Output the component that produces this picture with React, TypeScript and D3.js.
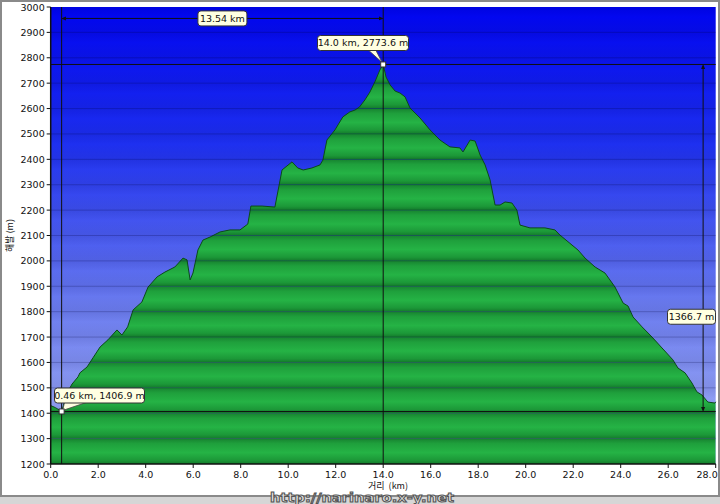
import React, { useEffect, useRef } from 'react';
import * as d3 from 'd3';

// elevation profile (distance km, elevation m)
const distKm = [
  0.0, 0.2, 0.46, 0.69, 0.9, 1.15, 1.23, 1.53, 1.78, 2.08, 2.41, 2.79, 3.0, 3.24,
  3.47, 3.84, 4.1, 4.48, 4.81, 5.23, 5.57, 5.74, 5.87, 5.99, 6.2, 6.41, 6.71,
  7.13, 7.55, 7.97, 8.3, 8.43, 8.9, 9.44, 9.74, 10.16, 10.4, 10.63, 11.0, 11.34,
  11.46, 11.63, 11.97, 12.3, 12.6, 12.81, 13.0, 13.23, 13.44, 13.65, 13.86, 14.0,
  14.12, 14.29, 14.5, 14.71, 14.92, 15.13, 15.55, 15.97, 16.39, 16.81, 17.23,
  17.36, 17.66, 17.87, 18.08, 18.29, 18.5, 18.71, 18.92, 19.13, 19.42, 19.63,
  19.76, 20.18, 20.81, 21.23, 21.44, 22.2, 22.5, 22.92, 23.34, 23.76, 24.1,
  24.31, 24.52, 24.9, 25.32, 25.74, 26.2, 26.41, 26.71, 27.0, 27.21, 27.42,
  27.67, 27.97, 28.0,
];
const elevM = [
  1430, 1422, 1406.9, 1480, 1515, 1543, 1559, 1582, 1618, 1661, 1689, 1728, 1708,
  1740, 1807, 1838, 1897, 1937, 1956, 1976, 2011, 2004, 1925, 1952, 2043, 2082,
  2094, 2114, 2122, 2122, 2145, 2216, 2216, 2212, 2358, 2390, 2366, 2358, 2366,
  2378, 2397, 2476, 2516, 2567, 2587, 2594, 2606, 2634, 2665, 2705, 2752, 2773.6,
  2724, 2693, 2669, 2661, 2646, 2602, 2563, 2516, 2476, 2449, 2445, 2429, 2476,
  2472, 2417, 2378, 2319, 2220, 2220, 2232, 2228, 2200, 2141, 2130, 2130, 2122,
  2102, 2043, 2011, 1976, 1952, 1897, 1834, 1822, 1779, 1740, 1700, 1657, 1610,
  1578, 1559, 1519, 1484, 1472, 1444, 1440, 1445,
];

const xTicks = [0, 2, 4, 6, 8, 10, 12, 14, 16, 18, 20, 22, 24, 26, 28];
const yTicks = [1200, 1300, 1400, 1500, 1600, 1700, 1800, 1900, 2000, 2100, 2200,
  2300, 2400, 2500, 2600, 2700, 2800, 2900, 3000];

const peak = { km: 14.0, m: 2773.6, label: '14.0 km, 2773.6 m' };
const low = { km: 0.46, m: 1406.9, label: '0.46 km, 1406.9 m' };
const spanLabel = '13.54 km';
const riseLabel = '1366.7 m';
const spanAtM = 2955;
const riseAtKm = 27.47;

const W = 720;
const H = 504;

const App: React.FC = () => {
  const svgRef = useRef<SVGSVGElement>(null);

  useEffect(() => {
    const svg = d3.select(svgRef.current);
    svg.selectAll('*').remove();

    const x = d3.scaleLinear().domain([0, 28]).range([50.7, 715.7]);
    const y = d3.scaleLinear().domain([1200, 3000]).range([464, 7]);
    const [x0, x1] = x.range();
    const [yb, yt] = y.range();
    const font = 'Tahoma, "DejaVu Sans", sans-serif';

    const defs = svg.append('defs');
    // sky gradient
    const sky = defs.append('linearGradient').attr('id', 'sky')
      .attr('x1', 0).attr('y1', 0).attr('x2', 0).attr('y2', 1);
    sky.append('stop').attr('offset', '0%').attr('stop-color', '#0004f0');
    sky.append('stop').attr('offset', '30%').attr('stop-color', '#1e30f0');
    sky.append('stop').attr('offset', '65%').attr('stop-color', '#6a7bef');
    sky.append('stop').attr('offset', '100%').attr('stop-color', '#a6b2f5');
    // green band gradient
    const band = defs.append('linearGradient').attr('id', 'band')
      .attr('x1', 0).attr('y1', 0).attr('x2', 0).attr('y2', 1);
    band.append('stop').attr('offset', '0%').attr('stop-color', '#178330');
    band.append('stop').attr('offset', '20%').attr('stop-color', '#1fa03c');
    band.append('stop').attr('offset', '55%').attr('stop-color', '#25b345');
    band.append('stop').attr('offset', '85%').attr('stop-color', '#1c9838');
    band.append('stop').attr('offset', '100%').attr('stop-color', '#137a2b');
    // sky band shading
    const skyBand = defs.append('linearGradient').attr('id', 'skyBand')
      .attr('x1', 0).attr('y1', 0).attr('x2', 0).attr('y2', 1);
    skyBand.append('stop').attr('offset', '0%').attr('stop-color', '#000030').attr('stop-opacity', 0.08);
    skyBand.append('stop').attr('offset', '40%').attr('stop-color', '#000030').attr('stop-opacity', 0);
    skyBand.append('stop').attr('offset', '100%').attr('stop-color', '#000030').attr('stop-opacity', 0.07);

    const pts: [number, number][] = distKm.map((d, i) => [d, elevM[i]]);
    const area = d3.area<[number, number]>()
      .x((d) => x(d[0])).y0(yb).y1((d) => y(d[1]));
    const line = d3.line<[number, number]>()
      .x((d) => x(d[0])).y((d) => y(d[1]));

    defs.append('clipPath').attr('id', 'ground')
      .append('path').attr('d', area(pts));

    // arrowheads
    const mk = (id: string, path: string) =>
      defs.append('marker').attr('id', id)
        .attr('viewBox', '0 0 10 10').attr('refX', 5).attr('refY', 5)
        .attr('markerWidth', 5).attr('markerHeight', 5).attr('orient', 'auto')
        .append('path').attr('d', path).attr('fill', '#111');
    mk('arrowEnd', 'M0,1 L10,5 L0,9 Z');
    mk('arrowStart', 'M10,1 L0,5 L10,9 Z');

    // frame
    svg.append('rect').attr('x', 0).attr('y', 0).attr('width', W).attr('height', H)
      .attr('fill', '#ffffff');
    svg.append('rect').attr('x', 0).attr('y', 496).attr('width', W).attr('height', 8)
      .attr('fill', '#d6d6d6');
    svg.append('line').attr('x1', 0).attr('x2', W).attr('y1', 496).attr('y2', 496)
      .attr('stroke', '#a0a0a0');
    svg.append('rect').attr('x', 1).attr('y', 1).attr('width', W - 2).attr('height', 495)
      .attr('fill', 'none').attr('stroke', '#8a8a8a').attr('stroke-width', 2);

    // plot background
    svg.append('rect').attr('x', x0).attr('y', yt).attr('width', x1 - x0)
      .attr('height', yb - yt).attr('fill', 'url(#sky)');
    const bands = yTicks.slice(0, -1);
    svg.append('g').selectAll('rect').data(bands).enter().append('rect')
      .attr('x', x0).attr('width', x1 - x0)
      .attr('y', (d) => y(d + 100)).attr('height', (d) => y(d) - y(d + 100))
      .attr('fill', 'url(#skyBand)');

    // ground bands
    svg.append('g').attr('clip-path', 'url(#ground)')
      .selectAll('rect').data(bands).enter().append('rect')
      .attr('x', x0).attr('width', x1 - x0)
      .attr('y', (d) => y(d + 100)).attr('height', (d) => y(d) - y(d + 100))
      .attr('fill', 'url(#band)');
    svg.append('path').attr('d', line(pts)).attr('fill', 'none')
      .attr('stroke', '#0b4a19').attr('stroke-width', 1);

    // grid lines
    svg.append('g').selectAll('line').data(yTicks.slice(1, -1)).enter().append('line')
      .attr('x1', x0).attr('x2', x1).attr('y1', (d) => y(d)).attr('y2', (d) => y(d))
      .attr('stroke', '#000040').attr('stroke-opacity', 0.22);

    // reference lines
    const refs = svg.append('g').attr('stroke', '#111').attr('stroke-width', 1);
    refs.append('line').attr('x1', x0).attr('x2', x1)
      .attr('y1', y(peak.m)).attr('y2', y(peak.m));
    refs.append('line').attr('x1', x0).attr('x2', x1)
      .attr('y1', y(low.m)).attr('y2', y(low.m));
    refs.append('line').attr('x1', x(low.km)).attr('x2', x(low.km))
      .attr('y1', yt).attr('y2', yb);
    refs.append('line').attr('x1', x(peak.km)).attr('x2', x(peak.km))
      .attr('y1', yt).attr('y2', yb);
    // dimension arrows
    refs.append('line').attr('x1', x(low.km) + 2).attr('x2', x(peak.km) - 2)
      .attr('y1', y(spanAtM)).attr('y2', y(spanAtM))
      .attr('marker-start', 'url(#arrowStart)').attr('marker-end', 'url(#arrowEnd)');
    refs.append('line').attr('x1', x(riseAtKm)).attr('x2', x(riseAtKm))
      .attr('y1', y(peak.m) + 2).attr('y2', y(low.m) - 2)
      .attr('marker-start', 'url(#arrowStart)').attr('marker-end', 'url(#arrowEnd)');

    // axes
    const axisG = svg.append('g').attr('font-family', font).attr('font-size', 9.5)
      .attr('fill', '#111');
    axisG.append('line').attr('x1', x0).attr('x2', x0).attr('y1', yt).attr('y2', yb)
      .attr('stroke', '#111').attr('stroke-width', 1.5);
    axisG.append('line').attr('x1', x0).attr('x2', x1).attr('y1', yb).attr('y2', yb)
      .attr('stroke', '#111').attr('stroke-width', 1.5);
    yTicks.forEach((t) => {
      axisG.append('line').attr('x1', x0 - 4).attr('x2', x0).attr('y1', y(t)).attr('y2', y(t))
        .attr('stroke', '#111');
      axisG.append('text').attr('x', x0 - 6).attr('y', y(t) + 3.5)
        .attr('text-anchor', 'end').text(String(t));
    });
    xTicks.forEach((t, i) => {
      const last = i === xTicks.length - 1;
      axisG.append('line').attr('x1', x(t)).attr('x2', x(t)).attr('y1', yb).attr('y2', yb + 4)
        .attr('stroke', '#111');
      axisG.append('text').attr('x', last ? x(t) + 2 : x(t)).attr('y', yb + 14)
        .attr('text-anchor', last ? 'end' : 'middle').text(t.toFixed(1));
    });
    axisG.append('text').attr('x', 388).attr('y', 489).attr('text-anchor', 'middle')
      .attr('font-family', '"Noto Sans CJK KR", sans-serif').attr('font-size', 9)
      .attr('xml:space', 'preserve').text('거리  (km)');
    axisG.append('text')
      .attr('transform', `translate(13, ${y(2100)}) rotate(-90)`)
      .attr('text-anchor', 'middle')
      .attr('font-family', '"Noto Sans CJK KR", sans-serif').attr('font-size', 9)
      .text('해발 (m)');

    // callout boxes
    const box = (cx: number, cy: number, w: number, text: string) => {
      const g = svg.append('g');
      g.append('rect').attr('x', cx - w / 2).attr('y', cy - 7.5).attr('width', w)
        .attr('height', 15).attr('rx', 3)
        .attr('fill', '#ffffe1').attr('stroke', '#333').attr('stroke-width', 1);
      g.append('text').attr('x', cx).attr('y', cy + 3.3).attr('text-anchor', 'middle')
        .attr('font-family', font).attr('font-size', 9.5).attr('fill', '#111').text(text);
      return g;
    };
    // tails
    svg.append('path')
      .attr('d', `M${x(peak.km) - 16},49 L${x(peak.km) - 1},${y(peak.m) - 2} L${x(peak.km) - 8},49`)
      .attr('fill', '#ffffe1').attr('stroke', '#444').attr('stroke-width', 0.8);
    svg.append('path')
      .attr('d', `M${x(low.km) + 3},402 L${x(low.km) + 1},${y(low.m) - 1} L${x(low.km) + 26},402`)
      .attr('fill', '#ffffe1').attr('stroke', '#444').attr('stroke-width', 0.8);
    box(363, 43, 91, peak.label);
    box(99.5, 395.5, 90, low.label);
    box((x(low.km) + x(peak.km)) / 2, y(spanAtM), 49, spanLabel);
    box(691.5, y(1780), 48, riseLabel);

    // point markers
    [peak, low].forEach((p) => {
      svg.append('rect').attr('x', x(p.km) - 2.5).attr('y', y(p.m) - 2.5)
        .attr('width', 5).attr('height', 5)
        .attr('fill', '#ffffff').attr('stroke', '#333').attr('stroke-width', 1);
    });

    // watermark
    svg.append('text').attr('x', 270).attr('y', 502)
      .attr('font-family', '"DejaVu Sans", sans-serif').attr('font-weight', 'bold')
      .attr('font-size', 13).attr('textLength', 184).attr('lengthAdjust', 'spacingAndGlyphs')
      .attr('fill', '#e6e6e6').attr('stroke', '#555').attr('stroke-width', 1)
      .text('http://narinaro.x-y.net');
  }, []);

  return (
    <div style={{ position: 'fixed', left: 0, top: 0, width: W, height: H }}>
      <svg ref={svgRef} width={W} height={H} />
    </div>
  );
};

export default App;
